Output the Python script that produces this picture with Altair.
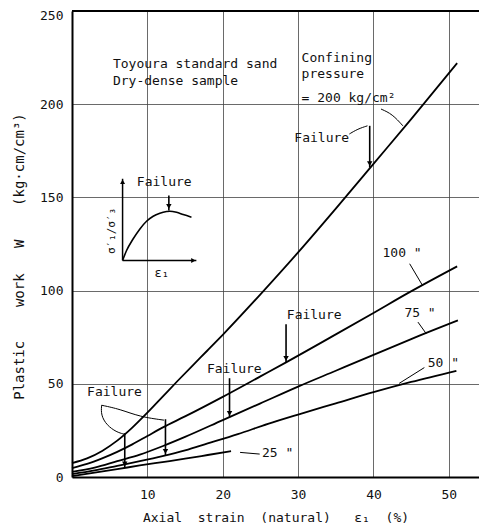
import altair as alt
import pandas as pd

FONT = "DejaVu Sans Mono"
NB = "\u00a0"

# ---- main curves (axial strain %, plastic work) ----
x200 = [0, 2, 4, 6, 8, 10, 12, 14, 16, 18, 20, 25, 30, 35, 40, 45, 51.1]
w200 = [7.5, 10, 14, 19.5, 26.5, 34.5, 43, 51.5, 59.8, 68, 76.3, 98, 120.5, 144, 168, 192, 222]
x100 = [0, 2, 4, 6, 8, 10, 12, 15, 20, 25, 28.4, 35, 40, 44.5, 51.1]
w100 = [4.8, 7, 10, 13.5, 17.5, 22, 26.5, 32.5, 43, 54, 61.5, 76.5, 88, 98.5, 113]
x75 = [0, 3, 6, 9, 12, 15, 20, 25, 30, 35, 40, 45, 51.2]
w75 = [2.8, 5, 8.5, 12, 16.5, 21.5, 30.5, 39.5, 48.5, 57, 65.5, 74, 84]
x50 = [0, 3, 6, 9, 12, 15, 18, 22, 26, 30, 35, 40, 45, 51]
w50 = [1.5, 3.5, 6, 8.5, 11.2, 14.3, 18, 23, 28.5, 33.5, 39.5, 45.5, 51, 57]
x25 = [0, 3, 6, 9, 12, 15, 18, 21.1]
w25 = [0.5, 2.3, 4.2, 6.2, 8, 9.8, 11.8, 13.9]

# ---- failure arrows ----
fail_x = [39.5, 28.4, 20.9, 12.4, 7.0, 12.85]
fail_top = [188.4, 82, 53, 31, 23.5, 151]
fail_tip = [166, 61.5, 32, 11.6, 4.9, 143]

# ---- inset sketch (stress ratio vs strain) ----
inset_x = [6.71, 7.24, 8.12, 9.01, 9.89, 10.77, 11.66, 12.54, 12.98, 13.87, 14.75, 15.85]
inset_y = [116.2, 121.5, 127.8, 133.1, 137.2, 139.9, 141.5, 142.4, 142.6, 142.0, 140.8, 139.4]
inset_axis_x = [[6.71, 6.71], [6.71, 16.5]]
inset_axis_y = [[116.2, 160], [116.2, 116.2]]

# ---- leader lines ----
leaders_x = [
    [41.0, 42.5, 43.9],
    [36.8, 37.9, 39.2],
    [44.8, 46.5],
    [45.9, 47.0],
    [46.75, 43.4],
    [24.9, 22.3],
    [3.93, 3.84, 4.6, 5.9, 6.9],
    [3.93, 6.36, 9.0, 12.2],
]
leaders_y = [
    [197.4, 194.7, 188.4],
    [184.0, 186.7, 188.4],
    [114.4, 102.8],
    [83.1, 76.9],
    [58.7, 50.2],
    [12.3, 13.2],
    [38.5, 33.2, 27.8, 24.1, 23],
    [38.5, 36.4, 32.3, 30.5],
]

# ---- texts ----
txt = [
    "Toyoura standard sand", "Dry-dense sample", "Confining", "pressure",
    "= 200 kg/cm²", "Failure", "Failure", '100 "', '75 "', '50 "', '25 "',
    "Failure", "Failure", "Failure",
]
txt_x = [5.43, 5.43, 30.46, 30.46, 30.46, 29.5, 8.6, 41.2, 44.1, 47.2, 25.2, 28.5, 17.9, 2.0]
txt_y = [221.6, 212.5, 224.8, 216.3, 203.4, 182, 158.5, 120.4, 87.8, 61, 12.8, 86.7, 57.8, 45.5]

x_title = "Axial  strain  (natural)   ε₁  (%)".replace(" ", NB)
y_title = "Plastic    work   W    (kg·cm/cm³)".replace(" ", NB)

XMAX = 54
xs = alt.Scale(domain=[0, XMAX], nice=False, zero=False)
ys = alt.Scale(domain=[0, 250], nice=False, zero=False)

rows = []
for name, xx, ww in [("200", x200, w200), ("100", x100, w100), ("75", x75, w75),
                     ("50", x50, w50), ("25", x25, w25)]:
    for i, (a, b) in enumerate(zip(xx, ww)):
        rows.append({"id": name, "i": i, "x": a, "y": b})
curves = pd.DataFrame(rows)

lrows = []
for k, (lx, ly) in enumerate(zip(leaders_x, leaders_y)):
    for i, (a, b) in enumerate(zip(lx, ly)):
        lrows.append({"id": f"L{k}", "i": i, "x": a, "y": b})
leaders = pd.DataFrame(lrows)

arows = []
for k, (lx, ly) in enumerate(zip(inset_axis_x, inset_axis_y)):
    for i, (a, b) in enumerate(zip(lx, ly)):
        arows.append({"id": f"A{k}", "i": i, "x": a, "y": b})
inset_axes = pd.DataFrame(arows)

inset = pd.DataFrame({"x": inset_x, "y": inset_y, "i": range(len(inset_x))})
fails = pd.DataFrame({"x": fail_x, "top": fail_top, "tip": fail_tip})
texts = pd.DataFrame({"t": txt, "x": txt_x, "y": txt_y})

X = alt.X("x:Q", scale=xs,
          axis=alt.Axis(values=[10, 20, 30, 40, 50], grid=True, gridColor="#444",
                        gridWidth=0.8, ticks=False, domainColor="black", domainWidth=2,
                        labelFont=FONT, labelFontSize=13, labelColor="#111", labelPadding=11,
                        title=x_title, titleFont=FONT,
                        titleFontSize=13, titleFontWeight="normal", titleColor="#111",
                        titlePadding=10))
Y = alt.Y("y:Q", scale=ys,
          axis=alt.Axis(values=[0, 50, 100, 150, 200, 250], grid=True, gridColor="#444",
                        gridWidth=0.8, ticks=False, domainColor="black", domainWidth=2,
                        labelFont=FONT, labelFontSize=13, labelColor="#111", labelPadding=9,
                        labelOffset={"condition": {"test": "datum.value == 250", "value": 4},
                                     "value": 0},
                        title=y_title, titleFont=FONT,
                        titleFontSize=14, titleFontWeight="normal", titleColor="#111",
                        titlePadding=13, titleY=245))

curve_layer = alt.Chart(curves).mark_line(color="black", strokeWidth=1.8, interpolate="monotone").encode(
    x=X, y=Y, detail="id:N", order="i:Q")

leader_layer = alt.Chart(leaders).mark_line(color="black", strokeWidth=1, interpolate="basis").encode(
    x=alt.X("x:Q", scale=xs), y=alt.Y("y:Q", scale=ys), detail="id:N", order="i:Q")

inset_axes_layer = alt.Chart(inset_axes).mark_line(color="black", strokeWidth=1.5).encode(
    x=alt.X("x:Q", scale=xs), y=alt.Y("y:Q", scale=ys), detail="id:N", order="i:Q")

inset_curve = alt.Chart(inset).mark_line(color="black", strokeWidth=1.6, interpolate="monotone").encode(
    x=alt.X("x:Q", scale=xs), y=alt.Y("y:Q", scale=ys), order="i:Q")

inset_heads = alt.Chart(pd.DataFrame({"x": [inset_axis_x[0][1]], "y": [inset_axis_y[0][1]]})).mark_point(
    shape="triangle-up", filled=True, color="black", size=25, opacity=1, yOffset=3).encode(
    x=alt.X("x:Q", scale=xs), y=alt.Y("y:Q", scale=ys))
inset_heads2 = alt.Chart(pd.DataFrame({"x": [inset_axis_x[1][1]], "y": [inset_axis_y[1][1]]})).mark_point(
    shape="triangle-right", filled=True, color="black", size=25, opacity=1, xOffset=-3).encode(
    x=alt.X("x:Q", scale=xs), y=alt.Y("y:Q", scale=ys))

fail_rules = alt.Chart(fails).mark_rule(color="black", strokeWidth=1.6).encode(
    x=alt.X("x:Q", scale=xs), y=alt.Y("top:Q", scale=ys), y2="tip:Q")
fail_heads = alt.Chart(fails).mark_point(shape="triangle-down", filled=True, color="black",
                                          size=30, opacity=1, yOffset=-4).encode(
    x=alt.X("x:Q", scale=xs), y=alt.Y("tip:Q", scale=ys))

top_line = alt.Chart(pd.DataFrame({"y": [250]})).mark_rule(color="black", strokeWidth=2).encode(
    y=alt.Y("y:Q", scale=ys))

text_layer = alt.Chart(texts).mark_text(font=FONT, fontSize=13, color="#111", align="left",
                                        baseline="middle").encode(
    x=alt.X("x:Q", scale=xs), y=alt.Y("y:Q", scale=ys), text="t:N")

sigma = alt.Chart(pd.DataFrame({"t": ["σ′₁/σ′₃"], "x": [5.3], "y": [132]})).mark_text(
    font=FONT, fontSize=11, color="#111", angle=270, align="center", baseline="middle").encode(
    x=alt.X("x:Q", scale=xs), y=alt.Y("y:Q", scale=ys), text="t:N")
eps = alt.Chart(pd.DataFrame({"t": ["ε₁"], "x": [11.9], "y": [109.7]})).mark_text(
    font=FONT, fontSize=12, color="#111", align="center", baseline="middle").encode(
    x=alt.X("x:Q", scale=xs), y=alt.Y("y:Q", scale=ys), text="t:N")

chart = alt.layer(
    curve_layer, leader_layer, inset_axes_layer, inset_curve, inset_heads, inset_heads2,
    fail_rules, fail_heads, top_line, text_layer, sigma, eps
).properties(
    width=407, height=466, background="white",
    autosize=alt.AutoSizeParams(type="none"),
    padding={"left": 64, "top": 3, "right": 0, "bottom": 51},
).configure_view(stroke=None)

chart.save("out.html", embed_options={"renderer": "svg", "actions": False})
